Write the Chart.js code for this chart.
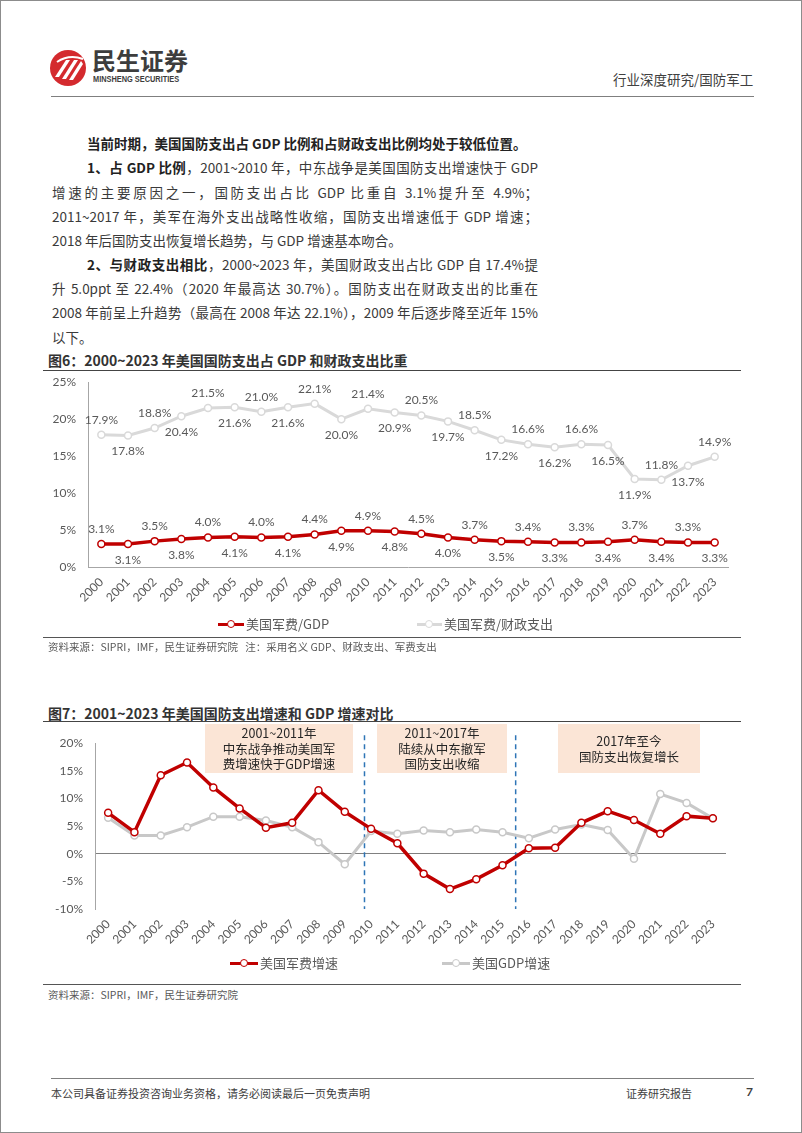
<!DOCTYPE html>
<html>
<head>
<meta charset="utf-8">
<script src="https://cdn.jsdelivr.net/npm/chart.js@4.4.1/dist/chart.umd.min.js"></script>
<style>
body{margin:0;background:#fff;font-family:"Noto Sans CJK SC",sans-serif;}
#page{position:relative;width:802px;height:1133px;overflow:hidden;box-sizing:border-box;border:1px solid #8c8c8c;}
.a{position:absolute;white-space:nowrap;}
.txt{font-size:13.5px;color:#3a3a3a;line-height:20px;}
.j{text-align:justify;text-align-last:justify;}
.ttl{font-size:14px;font-weight:bold;color:#333;}
.rule{position:absolute;height:0;border-top:1.5px solid #444;}
.src{font-size:10.5px;color:#595959;}
.box{position:absolute;background:#fbe5d6;color:#262626;font-size:12.5px;line-height:15.5px;text-align:center;}
.leg{position:absolute;font-size:13px;color:#595959;line-height:16px;}
.seg{position:absolute;height:3px;}
.dot{position:absolute;width:6px;height:6px;border-radius:50%;background:#fff;}
canvas{position:absolute;}
</style>
</head>
<body>
<div id="page">
  <!-- header -->
  <svg class="a" style="left:48px;top:47px" width="40" height="40" viewBox="0 0 40 40">
    <circle cx="19" cy="20" r="18" fill="#d42a2e"/>
    <path d="M6 29 L17 12 L21 12 L10 29 Z" fill="#fff"/>
    <path d="M13 31 L25 12 L29 12 L17 31 Z" fill="#fff"/>
    <path d="M20 32 L32 13 L34 16 L24 32 Z" fill="#fff"/>
    <path d="M8 14 Q20 6 34 11" stroke="#fff" stroke-width="2" fill="none"/>
  </svg>
  <div class="a" style="left:91px;top:45px;font-size:24px;font-weight:bold;color:#3d3d3d;line-height:28px;">民生证券</div>
  <div class="a" style="left:92px;top:73px;font-family:'Liberation Sans',sans-serif;font-size:9px;font-weight:bold;color:#3d3d3d;transform:scaleX(0.82);transform-origin:left;">MINSHENG SECURITIES</div>
  <div class="a" style="left:612px;top:68px;font-size:13.5px;color:#404040;">行业深度研究/国防军工</div>
  <div class="rule" style="left:50px;top:95px;width:703px;border-color:#7f7f7f;"></div>

  <!-- body text -->
  <div class="a txt" style="left:86px;top:132px;font-weight:bold;color:#222;">当前时期，美国国防支出占 GDP 比例和占财政支出比例均处于较低位置。</div>
  <div class="a txt j" style="left:86px;top:156px;width:451px;"><b style="color:#222">1、占 GDP 比例</b>，2001~2010 年，中东战争是美国国防支出增速快于 GDP</div>
  <div class="a txt j" style="left:51px;top:181px;width:486px;">增速的主要原因之一，国防支出占比 GDP 比重自 3.1%提升至 4.9%；</div>
  <div class="a txt j" style="left:51px;top:205px;width:486px;">2011~2017 年，美军在海外支出战略性收缩，国防支出增速低于 GDP 增速；</div>
  <div class="a txt" style="left:51px;top:229px;">2018 年后国防支出恢复增长趋势，与 GDP 增速基本吻合。</div>
  <div class="a txt j" style="left:86px;top:253px;width:451px;"><b style="color:#222">2、与财政支出相比</b>，2000~2023 年，美国财政支出占比 GDP 自 17.4%提</div>
  <div class="a txt j" style="left:51px;top:277px;width:486px;">升 5.0ppt 至 22.4%（2020 年最高达 30.7%）。国防支出在财政支出的比重在</div>
  <div class="a txt j" style="left:51px;top:301px;width:486px;">2008 年前呈上升趋势（最高在 2008 年达 22.1%），2009 年后逐步降至近年 15%</div>
  <div class="a txt" style="left:51px;top:326px;">以下。</div>

  <!-- figure 6 -->
  <div class="a ttl" style="left:47px;top:349px;">图6：2000~2023 年美国国防支出占 GDP 和财政支出比重</div>
  <div class="rule" style="left:42px;top:369px;width:698px;"></div>
  <canvas id="c1" width="700" height="260" style="left:40px;top:362px;"></canvas>
  <div id="leg1"></div>
  <div class="rule" style="left:42px;top:636px;width:698px;border-top-width:1px;border-color:#555;"></div>
  <div class="a src" style="left:47px;top:638px;">资料来源：SIPRI，IMF，民生证券研究院&nbsp;&nbsp;&nbsp;注：采用名义 GDP、财政支出、军费支出</div>

  <!-- figure 7 -->
  <div class="a ttl" style="left:47px;top:702px;">图7：2001~2023 年美国国防支出增速和 GDP 增速对比</div>
  <div class="rule" style="left:42px;top:720px;width:698px;"></div>
  <canvas id="c2" width="700" height="230" style="left:40px;top:723px;"></canvas>
  <div class="box" style="left:204px;top:723px;width:148px;height:49px;padding-top:1px;box-sizing:border-box;">2001~2011年<br>中东战争推动美国军<br>费增速快于GDP增速</div>
  <div class="box" style="left:376px;top:723px;width:130px;height:49px;padding-top:1px;box-sizing:border-box;">2011~2017年<br>陆续从中东撤军<br>国防支出收缩</div>
  <div class="box" style="left:557px;top:723px;width:142px;height:49px;padding-top:9px;box-sizing:border-box;">2017年至今<br>国防支出恢复增长</div>
  <div id="leg2"></div>
  <div class="rule" style="left:42px;top:983px;width:698px;border-top-width:1px;border-color:#555;"></div>
  <div class="a src" style="left:47px;top:986px;">资料来源：SIPRI，IMF，民生证券研究院</div>

  <!-- footer -->
  <div class="rule" style="left:50px;top:1077px;width:703px;border-top-width:1px;border-color:#7f7f7f;"></div>
  <div class="a" style="left:50px;top:1084px;font-size:11px;color:#404040;">本公司具备证券投资咨询业务资格，请务必阅读最后一页免责声明</div>
  <div class="a" style="left:625px;top:1084px;font-size:11px;color:#404040;">证券研究报告</div>
  <div class="a" style="left:745px;top:1083px;font-size:12px;font-weight:bold;color:#404040;font-family:Lato,sans-serif;">7</div>
</div>

<script>
// years and series
const years = ['2000','2001','2002','2003','2004','2005','2006','2007','2008','2009','2010','2011',
  '2012','2013','2014','2015','2016','2017','2018','2019','2020','2021','2022','2023'];

// 图6
const milToGdp = [3.1, 3.1, 3.5, 3.8, 4.0, 4.1, 4.0, 4.1, 4.4, 4.9, 4.9, 4.8,
  4.5, 4.0, 3.7, 3.5, 3.4, 3.3, 3.3, 3.4, 3.7, 3.4, 3.3, 3.3];
const milToFiscal = [17.9, 17.8, 18.8, 20.4, 21.5, 21.6, 21.0, 21.6, 22.1, 20.0, 21.4, 20.9,
  20.5, 19.7, 18.5, 17.2, 16.6, 16.2, 16.6, 16.5, 11.9, 11.8, 13.7, 14.9];

// 图7
const milGrowth = [7.4, 3.9, 14.2, 16.5, 12.0, 8.2, 4.7, 5.6, 11.5, 7.6, 4.5, 1.9,
  -3.6, -6.4, -4.6, -2.1, 1.0, 1.1, 5.6, 7.7, 6.1, 3.6, 6.8, 6.4];
const gdpGrowth = [6.5, 3.3, 3.3, 4.8, 6.7, 6.7, 6.0, 4.8, 2.1, -1.9, 4.1, 3.6,
  4.2, 3.9, 4.4, 3.9, 2.8, 4.4, 5.3, 4.3, -0.9, 10.8, 9.2, 6.4];

const names1 = ['美国军费/GDP', '美国军费/财政支出'];
const names2 = ['美国军费增速', '美国GDP增速'];
const periodBreaks = [9.75, 15.5];

const RED = '#c00000';
const numFont = 'Lato, "Noto Sans CJK SC", sans-serif';

// value labels above / below each point
const pointLabels = {
  id: 'pointLabels',
  afterDatasetsDraw(chart, args, opts) {
    if (!opts.show) return;
    const ctx = chart.ctx;
    ctx.save();
    ctx.font = '12px ' + numFont;
    ctx.fillStyle = '#595959';
    ctx.textAlign = 'center';
    ctx.textBaseline = 'middle';
    chart.data.datasets.forEach((ds, di) => {
      chart.getDatasetMeta(di).data.forEach((pt, i) => {
        let up = i % 2 === 0;
        if (di === 1 && i >= 20) up = !up;
        ctx.fillText(ds.data[i].toFixed(1) + '%', pt.x, pt.y + (up ? -15 : 16));
      });
    });
    ctx.restore();
  }
};

// dashed period separators
const dividers = {
  id: 'dividers',
  beforeDatasetsDraw(chart, args, opts) {
    if (!opts.at) return;
    const ctx = chart.ctx, x = chart.scales.x, y = chart.scales.y;
    ctx.save();
    ctx.strokeStyle = '#2e75b6';
    ctx.lineWidth = 1.5;
    ctx.setLineDash([5, 4]);
    opts.at.forEach(v => {
      const px = x.getPixelForValue(v);
      ctx.beginPath();
      ctx.moveTo(px, y.top - 8);
      ctx.lineTo(px, y.bottom);
      ctx.stroke();
    });
    ctx.restore();
  }
};

function lineSet(label, data, color, width) {
  return {
    label: label, data: data,
    borderColor: color, borderWidth: width,
    pointRadius: 3.5, pointBorderWidth: 1.5,
    pointBackgroundColor: '#fff', pointBorderColor: color,
    tension: 0, fill: false
  };
}

function makeChart(id, sets, yMin, yMax, yWidth, xHeight, padRight, opts) {
  return new Chart(document.getElementById(id), {
    type: 'line',
    data: { labels: years, datasets: sets },
    plugins: [pointLabels, dividers],
    options: {
      responsive: false,
      animation: false,
      layout: { padding: { top: 10, right: padRight, left: 0, bottom: 0 } },
      plugins: {
        legend: { display: false },
        tooltip: { enabled: false },
        pointLabels: { show: opts.labels },
        dividers: { at: opts.breaks }
      },
      scales: {
        x: {
          offset: true,
          grid: { display: false, drawTicks: false },
          border: { display: opts.xBorder, color: '#a6a6a6', width: 1 },
          ticks: { color: '#595959', font: { size: 12, family: numFont }, minRotation: 45, maxRotation: 45, padding: 8 },
          afterFit(s) { s.height = xHeight; }
        },
        y: {
          min: yMin, max: yMax,
          grid: {
            drawTicks: false,
            color: c => (opts.zeroLine && c.tick.value === 0) ? '#808080' : 'rgba(0,0,0,0)'
          },
          border: { display: true, color: '#a6a6a6', width: 1 },
          ticks: { stepSize: 5, color: '#595959', font: { size: 12, family: numFont }, padding: 12,
            callback: v => v + '%' },
          afterFit(s) { s.width = yWidth; }
        }
      }
    }
  });
}

makeChart('c1', [
  lineSet(names1[0], milToGdp, RED, 3.5),
  lineSet(names1[1], milToFiscal, '#d9d9d9', 3)
], 0, 25, 47, 56, 13, { labels: true, xBorder: true, zeroLine: false, breaks: null });

makeChart('c2', [
  lineSet(names2[0], milGrowth, RED, 3.5),
  lineSet(names2[1], gdpGrowth, '#c8c8c8', 3)
], -10, 20, 54, 45, 15, { labels: false, xBorder: false, zeroLine: true, breaks: periodBreaks });

// html legends
function legend(holder, items, y) {
  const el = document.getElementById(holder);
  items.forEach(it => {
    el.insertAdjacentHTML('beforeend',
      `<div class="seg" style="left:${it.x}px;top:${y - 1.5}px;width:${it.w}px;background:${it.color}"></div>` +
      `<div class="dot" style="left:${it.x + it.w / 2 - 4.5}px;top:${y - 4.5}px;border:1.5px solid ${it.color}"></div>` +
      `<div class="leg" style="left:${it.x + it.w + 2}px;top:${y - 8}px">${it.name}</div>`);
  });
}
legend('leg1', [
  { name: names1[0], color: RED, x: 217, w: 26 },
  { name: names1[1], color: '#d9d9d9', x: 416, w: 25 }
], 623);
legend('leg2', [
  { name: names2[0], color: RED, x: 229, w: 28 },
  { name: names2[1], color: '#c8c8c8', x: 441, w: 28 }
], 962);
</script>
</body>
</html>
